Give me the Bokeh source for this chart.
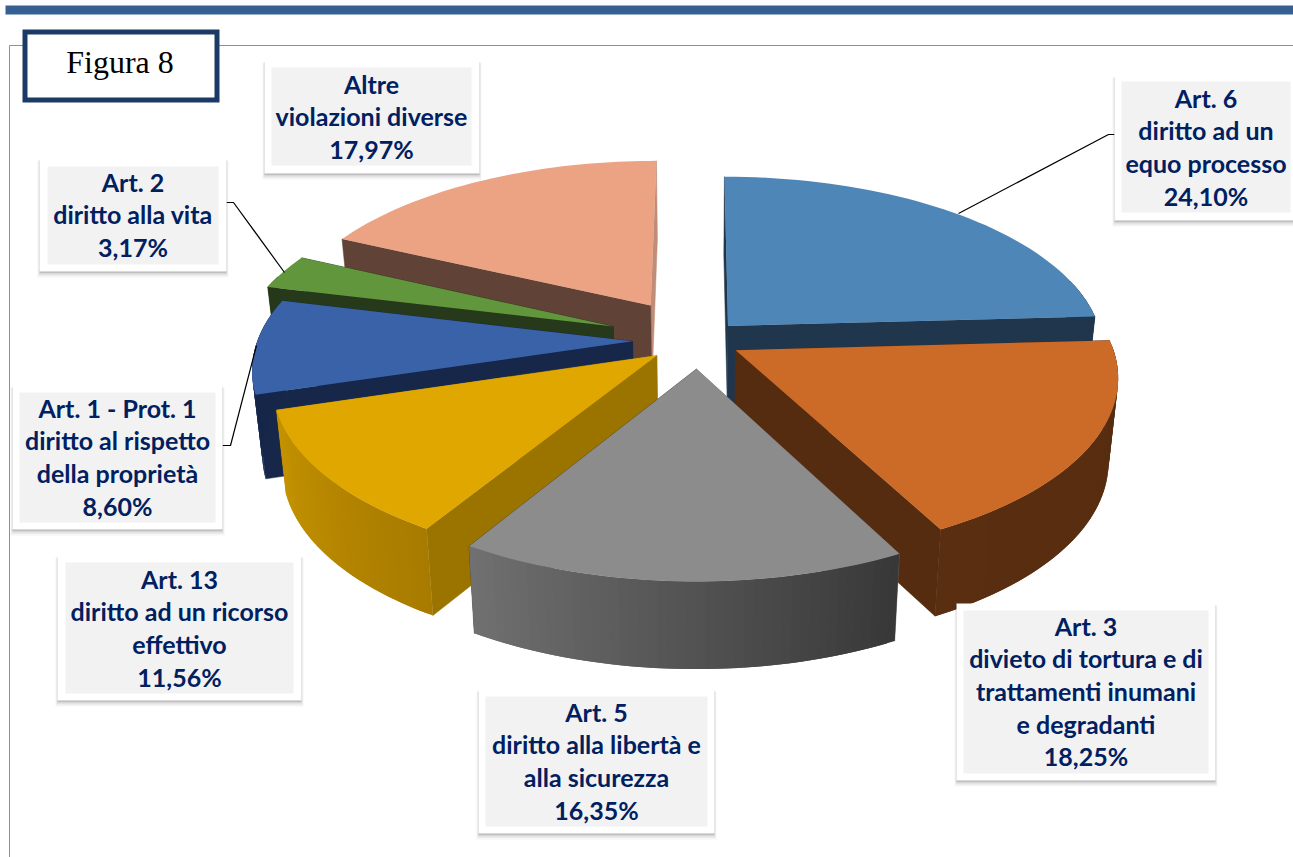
import numpy as np
from bokeh.plotting import figure
from bokeh.models import Range1d
from bokeh.core.properties import value
from bokeh.embed import file_html
from bokeh.resources import INLINE

# ---- data
categories = ["Art. 6", "Art. 3", "Art. 5", "Art. 13", "Art. 1 - Prot. 1", "Art. 2", "Altre"]
shares = [24.10, 18.25, 16.35, 11.56, 8.60, 3.17, 17.97]
descriptions = [
    ["diritto ad un", "equo processo"],
    ["divieto di tortura e di", "trattamenti inumani", "e degradanti"],
    ["diritto alla libertà e", "alla sicurezza"],
    ["diritto ad un ricorso", "effettivo"],
    ["diritto al rispetto", "della proprietà"],
    ["diritto alla vita"],
    ["violazioni diverse"],
]

# ---- style
explode = [0.116, 0.113, 0.160, 0.139, 0.176, 0.244, 0.245]
top_colors = ["#4F86B8", "#CC6B28", "#8C8C8C", "#DFA700", "#3A62A8", "#61963C", "#EBA384"]
start_wall = ["#20364D", "#562C10", "#6E6E6E", "#9B7400", "#16274A", "#26391A", "#604236"]
end_wall = ["#20364D", "#562C10", "#383838", "#C39200", "#16274A", "#26391A", "#BF8D78"]
outer_from = ["#20364D", "#562C10", "#383838", "#A87B00", "#16274A", "#26391A", "#604236"]
outer_to = ["#20364D", "#5A2E10", "#707070", "#C59300", "#16274A", "#26391A", "#604236"]
draw_order = [6, 0, 5, 4, 1, 3, 2]
CX, CY, RX, RY, PERSP = 698.0, 340.0, 375.0, 174.0, 0.14
BOTTOM_SHRINK = 0.977
# outer card, inner panel, first text line y
cards = [
    ((1114, 75, 1300, 220), (1121, 81, 1290, 212), 97),
    ((956, 603, 1215, 780), (963, 610, 1208, 773), 625),
    ((478, 689, 714, 833), (485, 696, 707, 826), 711),
    ((57, 555, 301, 700), (65, 562, 293, 693), 578),
    ((12, 385, 222, 529), (19, 392, 215, 522), 407),
    ((39, 158, 226, 271), (47, 166, 218, 264), 181),
    ((264, 60, 479, 173), (271, 67, 471, 165), 83),
]
LINE_PITCH = 32.7
leaders = [
    ([958, 1108, 1114], [213, 134, 134]),
    ([222, 230, 256], [445, 445, 345]),
    ([226, 233, 284], [202, 202, 272]),
]


def project(X, Y, bottom=False):
    s = 1.0 / (1.0 + PERSP * Y)
    x = CX + RX * X * s
    y = CY - RY * Y * s
    if bottom:
        x = CX + (x - CX) * BOTTOM_SHRINK
        y = y + (83.0 - 4.0 * Y)
    return x, y


def hexmix(a, b, t):
    ca = [int(a[i:i + 2], 16) for i in (1, 3, 5)]
    cb = [int(b[i:i + 2], 16) for i in (1, 3, 5)]
    return "#%02X%02X%02X" % tuple(int(round(p + (q - p) * t)) for p, q in zip(ca, cb))


p = figure(width=1293, height=857, x_range=Range1d(0, 1293), y_range=Range1d(857, 0),
           output_backend="svg", toolbar_location=None, min_border=0,
           background_fill_color="white", border_fill_color="white", outline_line_color=None)
p.axis.visible = False
p.grid.visible = False

# page furniture
p.quad(left=[5], right=[1293], top=[5], bottom=[14], fill_color="#366092", line_color=None)
p.line([9, 9, 1293], [857, 45, 45], line_color="#909090", line_width=1)

# pie slices
edges = np.concatenate([[0.0], np.cumsum(shares)]) / 100.0 * 2 * np.pi
for i in draw_order:
    t0, t1 = edges[i], edges[i + 1]
    mid = (t0 + t1) / 2
    ox, oy = explode[i] * np.sin(mid), explode[i] * np.cos(mid)
    t = np.linspace(t0, t1, 48)
    X, Y = ox + np.sin(t), oy + np.cos(t)
    xt, yt = project(X, Y)
    xb, yb = project(X, Y, True)
    ax, ay = project(ox, oy)
    bx, by = project(ox, oy, True)
    # radial walls: the one facing the viewer goes last
    walls = [(0, start_wall[i], np.sin(t0) < 0), (-1, end_wall[i], np.sin(t1) > 0)]
    walls.sort(key=lambda w: w[2])
    for k, col, _ in walls:
        p.patch([ax, xt[k], xb[k], bx], [ay, yt[k], yb[k], by],
                fill_color=col, line_color=col, line_width=0.5)
    # outer wall, shaded in overlapping strips, front part only
    xs, ys, cols = [], [], []
    for j in range(len(t) - 1):
        if np.cos(t[j]) > 0.3:
            continue
        e = min(j + 2, len(t) - 1)
        xs.append([xt[j], xt[e], xb[e], xb[j]])
        ys.append([yt[j], yt[e], yb[e], yb[j]])
        cols.append(hexmix(outer_from[i], outer_to[i], j / (len(t) - 2)))
    if xs:
        p.patches(xs, ys, fill_color=cols, line_color=None)
    # top face
    p.patch(np.r_[ax, xt], np.r_[ay, yt], fill_color=top_colors[i], line_color=None)

# leader lines
for lx, ly in leaders:
    p.line(lx, ly, line_color="black", line_width=1.2)

# label cards
for i, (outer, inner, first_y) in enumerate(cards):
    l, t, r, b = outer
    for grow, off, alpha in [(2, 4, 0.04), (1, 3, 0.07), (0, 2, 0.10), (0, 1, 0.12)]:
        p.quad(left=[l - grow], right=[r + grow], top=[t - grow + off], bottom=[b + grow + off],
               fill_color="black", fill_alpha=alpha, line_color=None)
    p.quad(left=[l], right=[r], top=[t], bottom=[b], fill_color="white", line_color=None)
    il, it, ir, ib = inner
    p.quad(left=[il], right=[ir], top=[it], bottom=[ib], fill_color="#F2F2F2", line_color=None)
    lines = [categories[i]] + descriptions[i] + [f"{shares[i]:.2f}".replace(".", ",") + "%"]
    p.text(x=[(il + ir) / 2] * len(lines), y=[first_y + n * LINE_PITCH for n in range(len(lines))],
           text=lines, text_font=value("Lato"), text_font_style="bold", text_font_size="25px",
           text_color="#002060", text_align="center", text_baseline="middle")

# figure tag
p.quad(left=[24.5], right=[216.5], top=[31.5], bottom=[99.5], fill_color="white",
       line_color="#1B3A66", line_width=5, line_join="miter")
p.text(x=[119.5], y=[61.5], text=["Figura 8"], text_font=value("Liberation Serif"),
       text_font_size="32px", text_color="black", text_align="center", text_baseline="middle")

open("out.html", "w").write(file_html(p, INLINE))
